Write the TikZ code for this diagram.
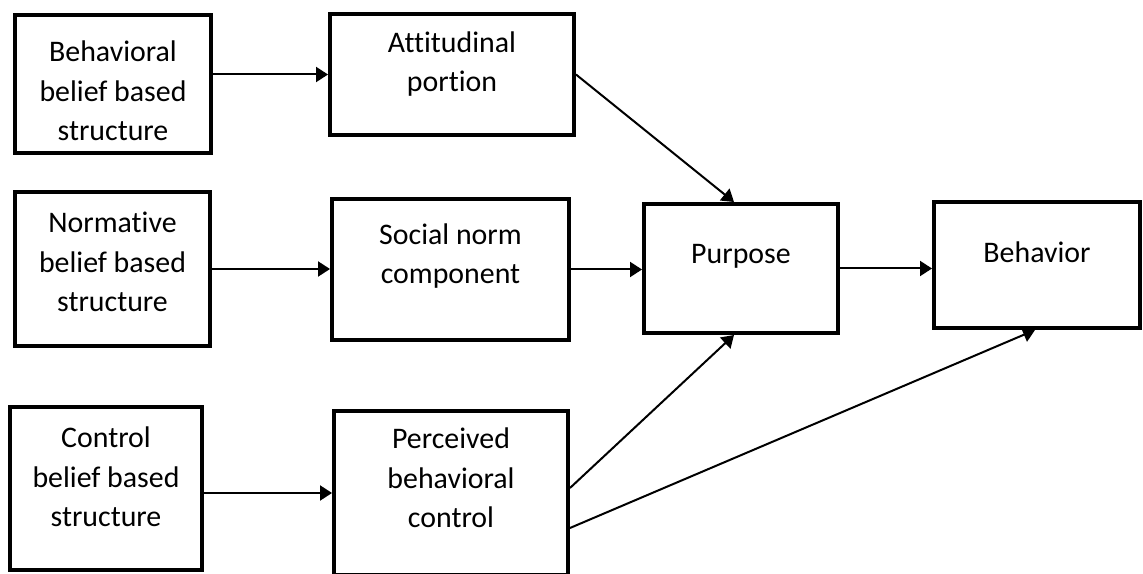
\documentclass[tikz,border=0pt]{standalone}
\usepackage{fontspec}
\setmainfont{Carlito}[Ligatures={NoCommon}]
\usetikzlibrary{arrows.meta}

\begin{document}
\begin{tikzpicture}[x=0.02cm, y=-0.02cm,
    box/.style={draw, line width=0.08cm, inner sep=0pt},
    lbl/.style={align=center, font=\fontsize{17pt}{22.5pt}\selectfont},
    arr/.style={line width=0.04cm, -{Triangle[length=0.24cm, width=0.3cm]}}]
      \useasboundingbox (0,0) rectangle (1143,574);

      \node[box, minimum width=3.92cm, minimum height=2.76cm] (bb) at (113,84) {};
      \node[box, minimum width=3.9cm, minimum height=3.08cm] (nb) at (112.5,269) {};
      \node[box, minimum width=3.84cm, minimum height=3.26cm] (cb) at (106,488.5) {};

      \node[box, minimum width=4.88cm, minimum height=2.42cm] (att) at (452,74.5) {};
      \node[box, minimum width=4.74cm, minimum height=2.82cm] (soc) at (450.5,269.5) {};
      \node[box, minimum width=4.68cm, minimum height=3.28cm] (pbc) at (451,493) {};

      \node[box, minimum width=3.88cm, minimum height=2.58cm] (pur) at (741,268.5) {};
      \node[box, minimum width=4.12cm, minimum height=2.52cm] (beh) at (1037,265) {};

      \node[lbl] (bbt) at (113,91) {Behavioral\\belief based\\structure};
      \node[lbl] (nbt) at (112.5,262) {Normative\\belief based\\structure};
      \node[lbl] (cbt) at (106,477) {Control\\belief based\\structure};
      \node[lbl] (attt) at (452,64) {Attitudinal\\portion};
      \node[lbl] (soct) at (450.5,256) {Social norm\\component};
      \node[lbl] (pbct) at (451,478) {Perceived\\behavioral\\control};
      \node[lbl] (purt) at (741,256) {Purpose};
      \node[lbl] (beht) at (1037,252) {Behavior};

      \draw[arr] (att.west -| bb.east) -- (att.west);
      \draw[arr] (nb.east) -- (nb.east -| soc.west);
      \draw[arr] (pbc.west -| cb.east) -- (pbc.west);

      \draw[arr] (att.east) -- ([xshift=-0.14cm]pur.north);
      \draw[arr] (soc.east) -- (soc.east -| pur.west);
      \draw[arr] ([yshift=0.1cm]pbc.east) -- ([xshift=-0.14cm]pur.south);
      \draw[arr] ([yshift=-0.7cm]pbc.east) -- ([xshift=-0.04cm]beh.south);
      \draw[arr] (pur.east) -- (pur.east -| beh.west);
\end{tikzpicture}
\end{document}
